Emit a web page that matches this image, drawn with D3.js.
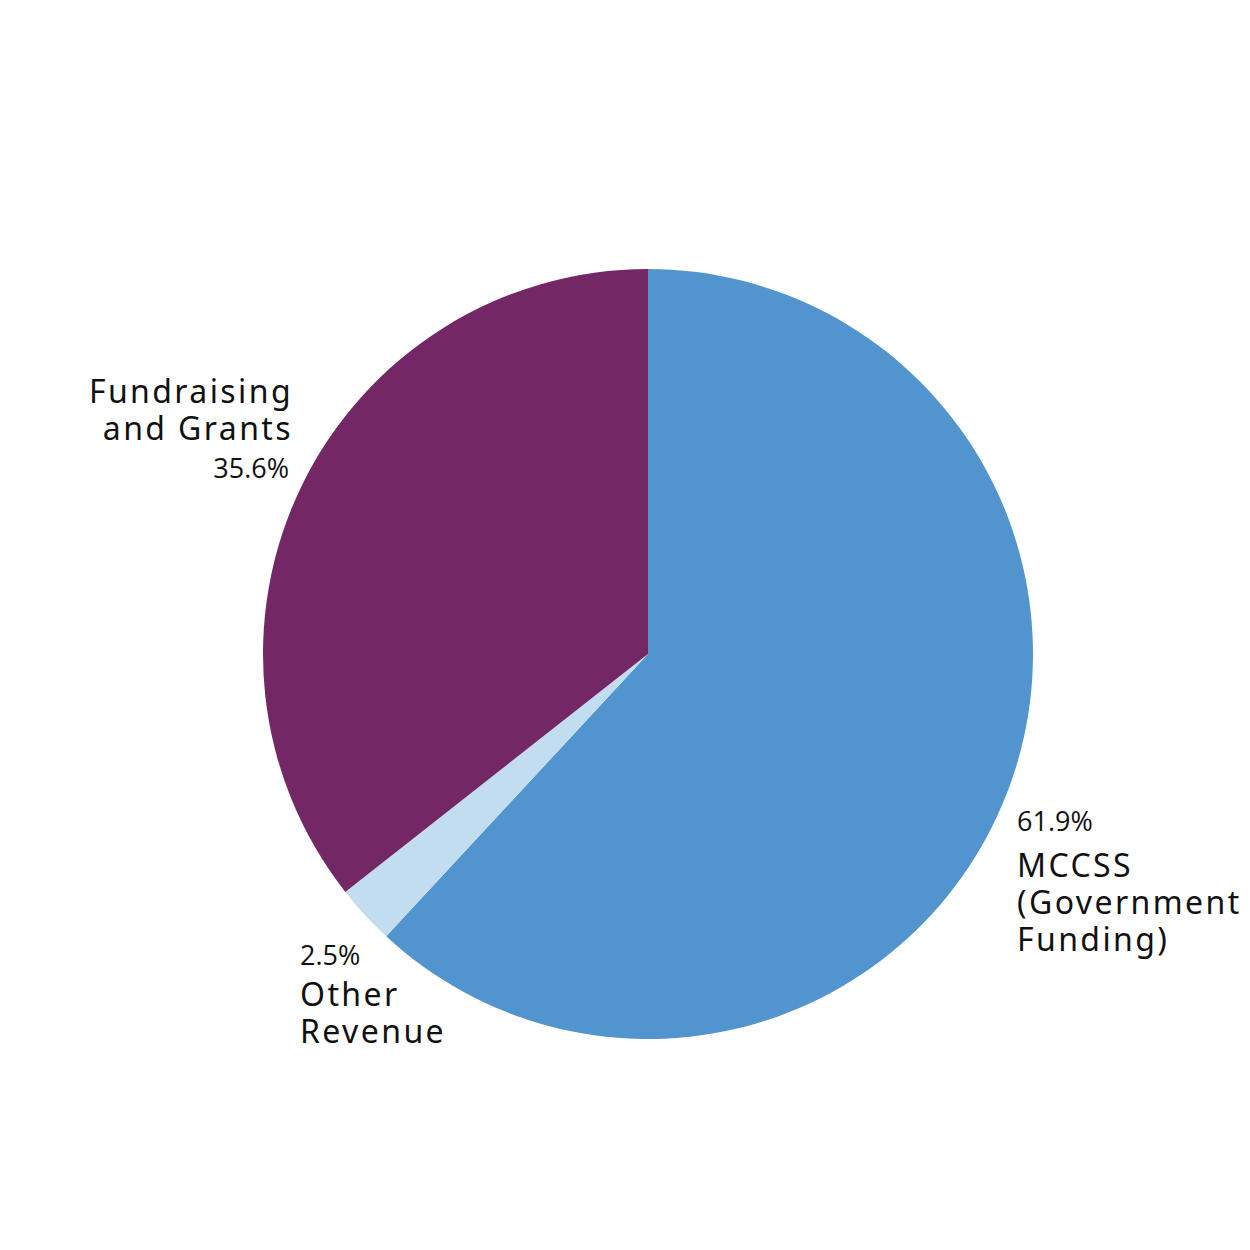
<!DOCTYPE html>
<html>
<head>
<meta charset="utf-8">
<script src="https://cdn.jsdelivr.net/npm/d3@7"></script>
<style>
  body { margin: 0; background: #fff; }
  .lbl { font-family: "Noto Sans", "DejaVu Sans", sans-serif; fill: #111; letter-spacing: 2.4px; }
  .pct { font-family: "Open Sans", "Noto Sans", sans-serif; fill: #111; }
</style>
</head>
<body>
<svg id="chart" width="1250" height="1250"></svg>
<script>
var categories = ["MCCSS (Government Funding)", "Other Revenue", "Fundraising and Grants"];
var values = [61.9, 2.5, 35.6];
var labelLines = [["MCCSS", "(Government", "Funding)"], ["Other", "Revenue"], ["Fundraising", "and Grants"]];
var colors = ["#5294ce", "#c2dcf0", "#742765"];

var svg = d3.select("#chart"),
    cx = 648, cy = 654, radius = 385;

var data = categories.map(function(c, i) {
  return {name: c, value: values[i], lines: labelLines[i], color: colors[i]};
});

var pie = d3.pie().sort(null).value(function(d) { return d.value; });
var arc = d3.arc().innerRadius(0).outerRadius(radius);

var g = svg.append("g").attr("transform", "translate(" + cx + "," + cy + ")");

g.selectAll("path")
  .data(pie(data))
  .enter().append("path")
    .attr("d", arc)
    .attr("fill", function(d) { return d.data.color; });

// label placement (page coords); gap = distance from percent to first name line
var labelPos = [
  {x: 1017, y: 831, anchor: "start", pctFirst: true, gap: 46},
  {x: 300, y: 965, anchor: "start", pctFirst: true, gap: 41},
  {x: 293, y: 403, anchor: "end", pctFirst: false, gap: 38}
];

data.forEach(function(d, i) {
  var p = labelPos[i];
  var t = svg.append("g").attr("text-anchor", p.anchor);
  var y = p.y;
  function names() {
    d.lines.forEach(function(l, k) {
      t.append("text").attr("class", "lbl").attr("x", p.x).attr("y", y)
        .attr("font-size", 32).text(l);
      if (k < d.lines.length - 1) y += 37;
    });
  }
  function pct() {
    t.append("text").attr("class", "pct").attr("x", p.anchor == "end" ? p.x - 4 : p.x).attr("y", y)
      .attr("font-size", 27).text(d.value.toFixed(1) + "%");
  }
  if (p.pctFirst) {
    pct(); y += p.gap; names();
  } else {
    names(); y += p.gap; pct();
  }
});
</script>
</body>
</html>
